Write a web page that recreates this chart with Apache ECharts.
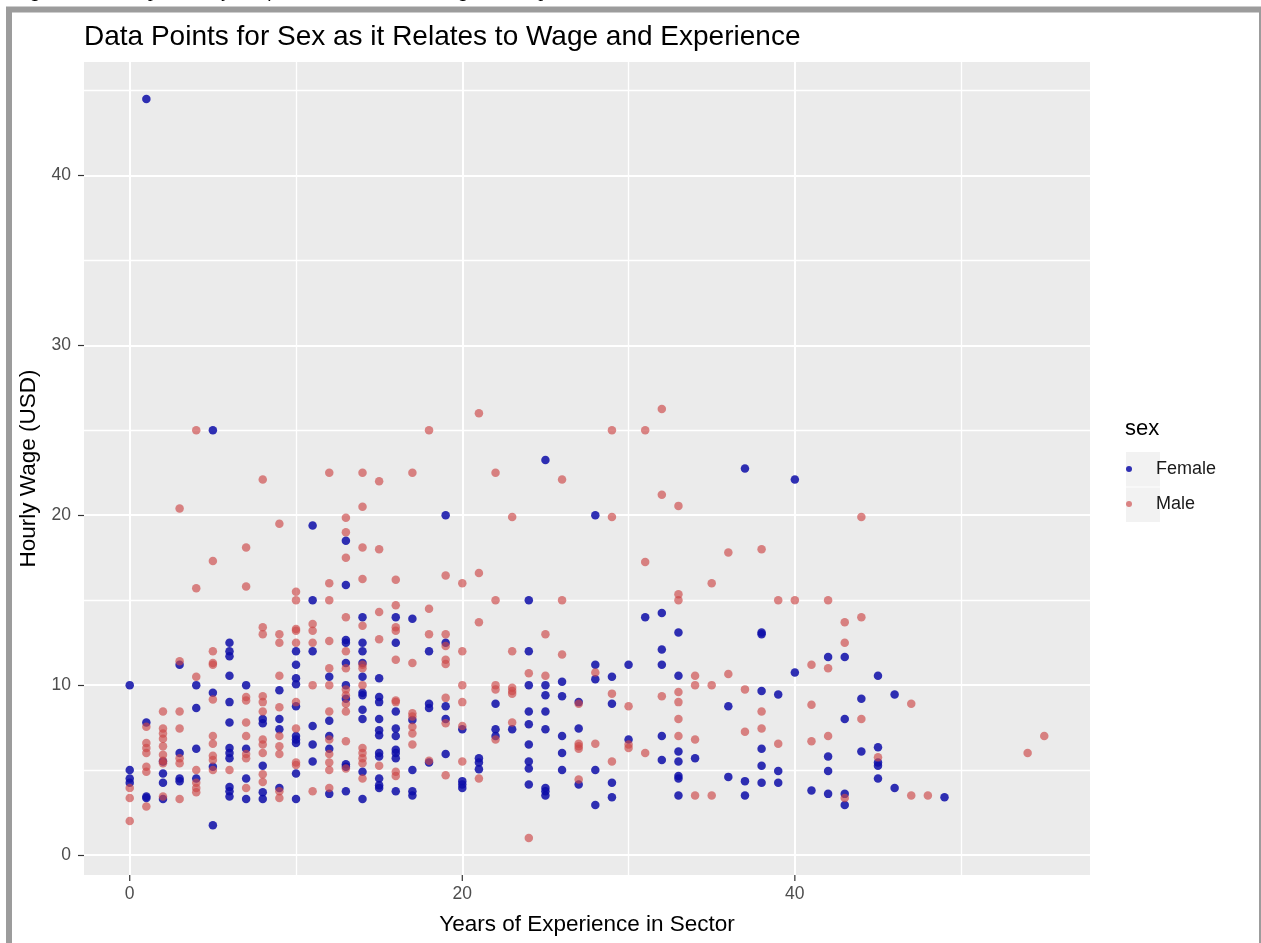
<!DOCTYPE html>
<html>
<head>
<meta charset="utf-8">
<title>Data Points for Sex as it Relates to Wage and Experience</title>
<script src="https://cdn.jsdelivr.net/npm/echarts@6/dist/echarts.min.js"></script>
<style>
  html, body { margin: 0; padding: 0; background: #ffffff; }
  #chart { width: 1261px; height: 943px; }
</style>
</head>
<body>
<div id="chart"></div>
<script>
// Hourly wage against years of experience, one point per worker: [years, wage]
const femalePoints = [
  [1,44.5],
  [5,25],[25,23.25],[19,20],[11,19.4],[13,18.5],[13,15.9],[11,15],[24,15],[14,14],[16,14],[17,13.9],
  [10,12],[11,12],[13,12.65],[13,12.5],[14,12.5],[16,12.5],[19,12.5],[18,12],[14,12],[24,12],
  [3,11.2],[6,12.5],[6,12],[6,11.7],[6,10.55],[10,10.4],[12,10.5],[14,10.5],[15,10.4],[13,11.3],[14,11.3],[10,11.2],
  [0,10],[0,5],[0,4.5],[0,4.25],
  [1,7.8],[1,3.45],[1,3.35],
  [2,5.5],[2,4.8],[2,4.25],[2,3.3],
  [3,6],[3,4.5],[3,4.35],
  [4,10],[4,8.65],[4,6.25],[4,4.5],
  [5,9.55],[5,5.2],[5,1.75],
  [6,9],[6,7.8],[6,6.3],[6,6],[6,5.7],[6,4],[6,3.75],[6,3.45],
  [7,10],[7,6.25],[7,4.5],[7,3.3],
  [8,8],[8,7.75],[8,5.25],[8,3.7],[8,3.3],
  [9,9.7],[9,8],[9,7.4],[9,3.95],
  [10,10.05],[10,8.75],[10,7],[10,6.8],[10,6.6],[10,4.8],[10,3.3],
  [11,7.6],[11,6.5],[11,5.5],
  [12,7.9],[12,7],[12,6.25],[12,3.6],
  [13,10],[13,9.2],[13,5.35],[13,5.2],[13,3.75],
  [14,9.55],[14,9.4],[14,8.55],[14,8],[14,4.9],[14,3.3],
  [15,9.3],[15,9],[15,8],[15,7.35],[15,7.05],[15,6],[15,5.8],[15,4.5],[15,4.1],[15,3.95],
  [16,8.45],[16,7.45],[16,7],[16,6.2],[16,6],[16,5.7],[16,3.75],
  [17,7.95],[17,5],[17,3.75],[17,3.5],
  [18,8.9],[18,8.65],[18,5.45],
  [19,8.75],[19,8],[19,5.95],
  [20,7.4],[20,4.35],[20,4.15],[20,3.95],
  [21,5.7],[21,5.45],[21,5.05],
  [22,8.9],[22,7.4],[22,7],
  [23,7.4],
  [24,10],[24,8.45],[24,7.7],[24,6.5],[24,5.5],[24,5.1],[24,4.15],
  [25,10],[25,9.4],[25,8.45],[25,7.4],[25,3.95],[25,3.75],[25,3.5],
  [26,10.2],[26,9.35],[26,7],[26,6],[26,5],
  [27,9],[27,7.45],[27,4.15],
  [28,20],[28,11.2],[28,10.35],[28,5],[28,2.95],
  [29,10.5],[29,8.9],[29,4.25],[29,3.4],
  [30,11.2],[30,6.8],
  [31,14],
  [32,14.25],[32,12.1],[32,11.2],[32,7],[32,5.6],
  [33,13.1],[33,10.55],[33,6.1],[33,5.5],[33,4.65],[33,4.5],[33,3.5],
  [34,5.7],
  [36,8.75],[36,4.6],
  [37,22.75],[37,4.35],[37,3.5],
  [38,13.1],[38,13],[38,9.65],[38,6.25],[38,5.25],[38,4.25],
  [39,9.45],[39,4.95],[39,4.25],
  [40,22.1],[40,10.75],
  [41,3.8],
  [42,11.65],[42,5.8],[42,4.95],[42,3.6],
  [43,11.65],[43,8],[43,3.6],[43,2.95],
  [44,9.2],[44,6.1],
  [45,10.55],[45,6.35],[45,5.45],[45,5.25],[45,4.5],
  [46,9.45],[46,3.95],
  [49,3.4]
];

const malePoints = [
  [4,25],[18,25],[21,26],[26,22.1],[12,22.5],[14,22.5],[15,22],[17,22.5],[22,22.5],[8,22.1],
  [3,20.4],[14,20.5],[23,19.9],[9,19.5],[13,19.85],[13,19],[13,17.5],[14,18.1],[15,18],[7,18.1],
  [5,17.3],[4,15.7],[7,15.8],[12,16],[14,16.25],[16,16.2],[19,16.45],[20,16],[21,16.6],
  [10,15.5],[10,15],[12,15],[22,15],[26,15],[13,14],[14,13.5],[15,14.3],[16,14.7],[18,14.5],[21,13.7],
  [8,13.4],[8,13],[9,13],[9,12.5],[10,13.3],[10,13.2],[11,13.6],[11,13.2],[11,12.5],[10,12.5],
  [12,12.6],[13,12],[15,12.7],[18,13],[19,13],[19,12.3],[20,12],[23,12],[25,13],[26,11.8],
  [3,11.4],[5,12],[5,11.3],[5,11.2],[4,10.5],[9,10.55],[16,11.5],[17,11.3],[19,11.5],[19,11.25],
  [24,10.7],[25,10.55],[12,11],[13,11],[14,11.2],[14,11],[16,13.4],[16,13.2],
  [0,3.95],[0,3.35],[0,2],
  [1,7.55],[1,6.6],[1,6.3],[1,6],[1,5.2],[1,4.9],[1,2.85],
  [2,8.45],[2,7.45],[2,7.15],[2,6.85],[2,6.4],[2,5.9],[2,5.55],[2,5.4],[2,3.45],
  [3,8.45],[3,7.45],[3,5.7],[3,5.4],[3,3.3],
  [4,5],[4,4.25],[4,3.95],[4,3.7],
  [5,9.15],[5,7],[5,6.55],[5,5.85],[5,5.6],[5,5],
  [6,5],
  [7,9.3],[7,9.1],[7,7.8],[7,7],[7,5.95],[7,5.7],[7,3.95],
  [8,9.35],[8,9],[8,8.45],[8,6.8],[8,6.5],[8,6],[8,4.75],[8,4.3],
  [9,8.7],[9,7],[9,6.4],[9,5.95],[9,3.75],[9,3.35],
  [10,9],[10,7.45],[10,5.45],[10,5.3],
  [11,10],[11,3.75],
  [12,10],[12,8.45],[12,6.8],[12,5.95],[12,5.45],[12,5],[12,3.95],
  [13,9.75],[13,9.4],[13,8.9],[13,8.45],[13,6.7],[13,5.1],
  [14,10],[14,6.3],[14,6],[14,5.7],[14,5.4],[14,4.5],
  [15,5.25],
  [16,9.1],[16,9],[16,4.9],[16,4.65],
  [17,8.35],[17,8.15],[17,7.55],[17,7.15],[17,6.5],
  [18,5.55],
  [19,9.25],[19,7.75],[19,4.7],
  [20,10],[20,9],[20,7.6],[20,5.5],
  [21,4.5],
  [22,10],[22,9.75],[22,6.8],
  [23,9.85],[23,9.65],[23,9.5],[23,7.8],
  [24,1],
  [27,8.9],[27,6.55],[27,6.4],[27,6.25],[27,4.45],
  [28,10.75],[28,6.55],
  [29,25],[29,19.9],[29,9.5],[29,5.5],
  [30,8.75],[30,6.5],[30,6.3],
  [31,25],[31,17.25],[31,6],
  [32,26.25],[32,21.2],[32,9.35],
  [33,20.55],[33,15.35],[33,15],[33,9.6],[33,9],[33,8],[33,7],
  [34,10.55],[34,10],[34,6.8],[34,3.5],
  [35,16],[35,10],[35,3.5],
  [36,17.8],[36,10.65],
  [37,9.75],[37,7.25],
  [38,18],[38,8.45],[38,7.45],
  [39,15],[39,6.55],
  [40,15],
  [41,11.2],[41,8.85],[41,6.7],
  [42,15],[42,11],[42,7],
  [43,13.7],[43,12.5],[43,3.35],
  [44,19.9],[44,14],[44,8],
  [45,5.75],
  [47,8.9],[47,3.5],
  [48,3.5],
  [54,6],
  [55,7]
];

// Axis breaks
const xMajorTicks = [0, 20, 40];
const xMinorLines = [10, 30, 50];
const yMajorTicks = [0, 10, 20, 30, 40];
const yMinorLines = [5, 15, 25, 35, 45];

const X_RANGE = [-2.75, 57.75];
const Y_RANGE = [-1.175, 46.675];

const seriesNames = ['Female', 'Male'];
const FONT = 'Liberation Sans, Arial, sans-serif';

const chart = echarts.init(document.getElementById('chart'), null, { renderer: 'canvas' });

const line = (w) => ({ color: '#ffffff', width: w, type: 'solid' });
const gridLines = []
  .concat(xMinorLines.map(v => ({ xAxis: v, lineStyle: line(1.3) })))
  .concat(yMinorLines.map(v => ({ yAxis: v, lineStyle: line(1.3) })))
  .concat(xMajorTicks.map(v => ({ xAxis: v, lineStyle: line(2) })))
  .concat(yMajorTicks.map(v => ({ yAxis: v, lineStyle: line(2) })));

chart.setOption({
  animation: false,
  backgroundColor: '#ffffff',
  title: {
    text: 'Data Points for Sex as it Relates to Wage and Experience',
    left: 84,
    top: 23,
    padding: 0,
    textStyle: { fontFamily: FONT, fontSize: 28, fontWeight: 'normal', color: '#000000' }
  },
  grid: {
    left: 84, top: 62, width: 1006, height: 813,
    show: true, backgroundColor: '#EBEBEB', borderWidth: 0,
    containLabel: false
  },
  legend: {
    data: seriesNames,
    orient: 'vertical',
    left: 1126,
    top: 451.5,
    padding: 0,
    itemGap: 0,
    itemWidth: 34,
    itemHeight: 6,
    icon: 'circle',
    selectedMode: false,
    textStyle: { fontFamily: FONT, fontSize: 18, color: '#1a1a1a', lineHeight: 35, padding: [0, 0, 0, 5] }
  },
  graphic: [
    {
      type: 'rect', z: 0,
      shape: { x: 9, y: 9.5, width: 1253, height: 1000 },
      style: { fill: 'none', stroke: '#9c9c9c', lineWidth: 6 }
    },
    {
      type: 'text', z: 0, x: 14, y: -9.3,
      style: {
        text: 'Figure 3. Scatterplot Analysis of Sex as it Relates to Wage and Experience',
        font: 'italic 20px "Liberation Serif", "DejaVu Serif", serif',
        fill: '#000000', verticalAlign: 'middle'
      }
    },
    {
      type: 'text', z: 0, left: 1125, top: 418,
      style: { text: 'sex', font: '22px ' + FONT, fill: '#000000' }
    },
    {
      type: 'rect', z: 0,
      shape: { x: 1126, y: 452, width: 34, height: 34.5 },
      style: { fill: '#F2F2F2' }
    },
    {
      type: 'rect', z: 0,
      shape: { x: 1126, y: 487.5, width: 34, height: 34.5 },
      style: { fill: '#F2F2F2' }
    }
  ],
  xAxis: {
    type: 'value',
    position: 'bottom',
    min: X_RANGE[0],
    max: X_RANGE[1],
    name: 'Years of Experience in Sector',
    nameLocation: 'middle',
    nameGap: 38,
    nameTextStyle: { fontFamily: FONT, fontSize: 22.5, color: '#000000' },
    axisLine: { show: false, onZero: false },
    axisTick: { show: false },
    axisLabel: { customValues: xMajorTicks, fontFamily: FONT, fontSize: 17.5, color: '#4D4D4D', margin: 10 },
    splitLine: { show: false },
    minorSplitLine: { show: false }
  },
  yAxis: {
    type: 'value',
    position: 'left',
    min: Y_RANGE[0],
    max: Y_RANGE[1],
    name: 'Hourly Wage (USD)',
    nameLocation: 'middle',
    nameGap: 35,
    nameRotate: 90,
    nameTextStyle: { fontFamily: FONT, fontSize: 22.5, color: '#000000' },
    axisLine: { show: false, onZero: false },
    axisTick: { show: true, customValues: yMajorTicks, length: 6, lineStyle: { color: '#333333', width: 1.2 } },
    axisLabel: { customValues: yMajorTicks, fontFamily: FONT, fontSize: 17.5, color: '#4D4D4D', margin: 13 },
    splitLine: { show: false },
    minorSplitLine: { show: false }
  },
  series: [
    {
      // panel grid lines, drawn under the points
      name: 'grid-lines',
      type: 'scatter',
      data: [],
      silent: true,
      z: 1,
      markLine: {
        silent: true,
        z: 1,
        symbol: ['none', 'none'],
        label: { show: false },
        lineStyle: { type: 'solid', color: '#ffffff' },
        emphasis: { disabled: true },
        animation: false,
        data: gridLines
      }
    },
    {
      // short tick marks below the panel at each x break
      name: 'x-ticks',
      type: 'custom',
      silent: true,
      clip: false,
      z: 3,
      data: xMajorTicks.map(v => [v, Y_RANGE[0]]),
      encode: { x: 0, y: 1 },
      renderItem: function (params, api) {
        const p = api.coord([api.value(0), api.value(1)]);
        return {
          type: 'line',
          shape: { x1: p[0], y1: p[1], x2: p[0], y2: p[1] + 6 },
          style: { stroke: '#333333', lineWidth: 1.2 }
        };
      }
    },
    {
      name: 'Female',
      type: 'scatter',
      data: femalePoints,
      symbol: 'circle',
      symbolSize: 8.5,
      z: 2,
      itemStyle: { color: '#0d0da8', opacity: 0.85 }
    },
    {
      name: 'Male',
      type: 'scatter',
      data: malePoints,
      symbol: 'circle',
      symbolSize: 8.5,
      z: 2,
      itemStyle: { color: '#cd4646', opacity: 0.65 }
    }
  ]
});
</script>
</body>
</html>
